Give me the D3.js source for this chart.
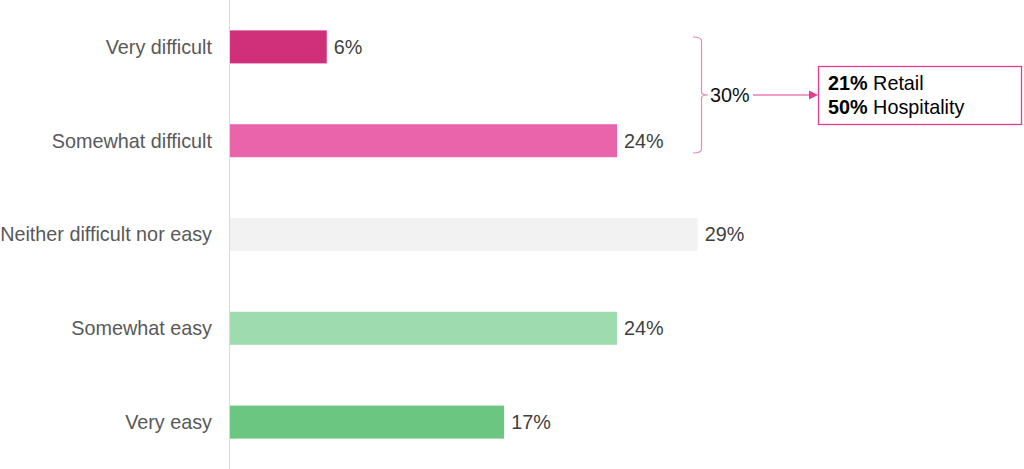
<!DOCTYPE html>
<html><head><meta charset="utf-8">
<script src="https://cdn.jsdelivr.net/npm/d3@7"></script>
<style>body{margin:0;background:#fff}svg{display:block}text{font-family:"Liberation Sans",Arial,sans-serif}</style>
</head><body><svg id="c" width="1024" height="469"></svg>
<script>
const categories = ["Very difficult","Somewhat difficult","Neither difficult nor easy","Somewhat easy","Very easy"];
const values = [6,24,29,24,17];
const colors = ["#d0307a","#ea64ac","#f2f2f2","#9edcb0","#6ac680"];
const bracketTotal = "30%";
const calloutPct = ["21%","50%"];
const calloutLabel = ["Retail","Hospitality"];

const svg = d3.select("#c");
const x = d3.scaleLinear().domain([0,24]).range([230,617]);
const y = d3.scaleBand().domain(categories).range([0,469]).paddingInner(0.648).paddingOuter(0.324);
const FS = 19.8;

svg.append("line").attr("x1",229.5).attr("x2",229.5).attr("y1",0).attr("y2",469)
  .attr("stroke","#d9d9d9").attr("stroke-width",1);

svg.selectAll("rect.bar").data(values).join("rect").attr("class","bar")
  .attr("x",x(0)).attr("y",(d,i)=>y(categories[i]))
  .attr("width",d=>x(d)-x(0)).attr("height",y.bandwidth())
  .attr("fill",(d,i)=>colors[i]);

svg.selectAll("text.cat").data(categories).join("text").attr("class","cat")
  .attr("x",212).attr("y",d=>y(d)+y.bandwidth()/2).attr("dy","0.35em")
  .attr("text-anchor","end").attr("font-size",FS).attr("fill","#595959").text(d=>d);

svg.selectAll("text.val").data(values).join("text").attr("class","val")
  .attr("x",d=>x(d)+7).attr("y",(d,i)=>y(categories[i])+y.bandwidth()/2).attr("dy","0.35em")
  .attr("font-size",FS).attr("fill","#404040").text(d=>d+"%");

// bracket
const by0 = 37, by1 = 153, bx = 701.5, bm = 95;
svg.append("path")
  .attr("d",`M693,${by0} Q701.5,${by0} ${bx},${by0+4} L${bx},${bm-3} Q${bx},${bm} 708,${bm} Q${bx},${bm} ${bx},${bm+3} L${bx},${by1-4} Q${bx},${by1} 693,${by1}`)
  .attr("fill","none").attr("stroke","#e889bb").attr("stroke-width",1.2);
svg.append("text").attr("x",710).attr("y",bm).attr("dy","0.35em").attr("font-size",FS)
  .attr("fill","#111").text(bracketTotal);

// arrow
svg.append("line").attr("x1",753).attr("x2",810).attr("y1",bm).attr("y2",bm)
  .attr("stroke","#e23e8f").attr("stroke-width",1.2);
svg.append("path").attr("d",`M809,${bm-4.5} L818,${bm} L809,${bm+4.5} Z`).attr("fill","#e23e8f");

// callout box
svg.append("rect").attr("x",818.5).attr("y",66.5).attr("width",203).attr("height",58)
  .attr("fill","#fff").attr("stroke","#e23e8f").attr("stroke-width",1.3);
calloutPct.forEach((p,i)=>{
  const t = svg.append("text").attr("x",828).attr("y",83+i*24).attr("dy","0.35em")
    .attr("font-size",FS).attr("fill","#000");
  t.append("tspan").attr("font-weight","bold").text(p);
  t.append("tspan").text(" "+calloutLabel[i]);
});
</script></body></html>
